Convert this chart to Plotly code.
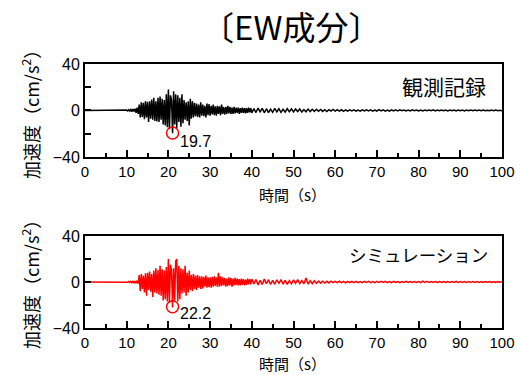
import numpy as np
import plotly.graph_objects as go

# ---------------- data ----------------
title_text = "〔EW成分〕"
panel_labels = ["観測記録", "シミュレーション"]
ytitle = "加速度（cm/s<sup>2</sup>）"
xtitle = "時間（s）"
x_tickvals = [0, 10, 20, 30, 40, 50, 60, 70, 80, 90, 100]
y_tickvals = [-40, 0, 40]
y_ticktext = ["−40", "0", "40"]

# time bases (s)
t_quiet = np.arange(0, 10, 1.0)
t_main = np.arange(10.0, 40.0, 0.25)
t_tail = np.arange(40.0, 100.01, 0.5)

# observed acceleration (cm/s^2)
obs_quiet = [0, 0, 0, 0, 0, 0, 0, 0, 0.1, -0.1]
obs_main = [
    0.3, -0.4, 0.6, -0.5, 0.8, -1.0, 1.2, -0.9,
    1.5, -2.0, 2.5, -3.0, 5.0, -6.0, 7.0, -5.5,
    6.5, -7.5, 8.0, -6.0, 7.5, -10.0, 8.0, -7.0,
    9.5, -8.0, 11.0, -9.0, 8.0, -9.5, 11.0, -10.0,
    12.0, -8.0, 10.0, -12.0, 9.0, -13.0, 14.0, -14.5,
    18.0, -16.0, 13.0, 9.0, -19.7, 16.5, -12.0, 14.0,
    -15.0, 13.0, -10.0, 11.0, -14.0, 14.0, -11.0, 9.0,
    -8.0, 7.0, -9.0, 8.0, -13.0, 10.0, -7.0, 8.0,
    -6.0, 6.5, -5.0, 6.0, -5.5, 5.0, -6.0, 7.0,
    -4.5, 5.0, -5.0, 4.0, -6.0, 6.0, -4.0, 5.5,
    -4.5, 4.0, -3.5, 5.0, -4.0, 3.5, -4.5, 4.0,
    -3.0, 3.5, -4.0, 5.0, -3.0, 3.0, -3.5, 3.0,
    -3.0, 4.0, -2.5, 3.0, -3.0, 2.5, -3.0, 3.0,
    -2.5, 2.5, -2.0, 2.5, -3.0, 2.0, -2.0, 2.5,
    -2.0, 2.0, -2.5, 2.0, -2.0, 2.5, -1.5, 2.0,
]
obs_tail = [
    -2.0, 1.6, -1.8, 2.0, -1.2, 1.8, -2.0, 1.5, -1.8, 1.2,
    -1.6, 1.8, -1.2, 1.5, -1.6, 1.0, -1.4, 1.6, -1.0, 1.4,
    -1.2, 1.3, -0.9, 1.2, -1.4, 0.8, -1.1, 1.2, -0.9, 1.0,
    -0.8, 1.0, -0.7, 0.9, -0.8, 0.6, -0.9, 0.7, -0.6, 0.8,
    -0.6, 0.7, -0.5, 0.6, -0.7, 0.5, -0.6, 0.5, -0.4, 0.6,
    -0.5, 0.4, -0.6, 0.5, -0.4, 0.6, -0.4, 0.5, -0.5, 0.4,
    -0.5, 0.7, -0.4, 0.5, -0.6, 0.4, -0.5, 0.6, -0.4, 0.5,
    -0.4, 0.5, -0.3, 0.4, -0.5, 0.3, -0.4, 0.5, -0.3, 0.4,
    -0.4, 0.3, -0.5, 0.4, -0.3, 0.4, -0.3, 0.5, -0.4, 0.3,
    -0.3, 0.4, -0.3, 0.3, -0.4, 0.3, -0.3, 0.4, -0.4, 0.3,
    -0.3, 0.3, -0.4, 0.4, -0.3, 0.3, -0.3, 0.4, -0.3, 0.3,
    -0.3, 0.3, -0.3, 0.2, -0.3, 0.3, -0.2, 0.3, -0.3, 0.2,
    -0.2,
]

# simulated acceleration (cm/s^2)
sim_quiet = [0, 0, 0, 0, 0, 0, 0, 0, 0.1, -0.1]
sim_main = [
    0.2, -0.3, 0.4, -0.4, 0.5, -0.6, 0.6, -0.7,
    0.8, -1.0, 1.2, -1.5, 6.0, -8.0, 7.0, -6.0,
    5.5, -9.0, 7.5, -12.0, 8.0, -7.0, 9.0, -8.5,
    7.0, -13.0, 10.0, -9.0, 12.0, -10.0, 10.5, -11.0,
    14.0, -12.0, 11.0, -16.0, 10.0, -15.0, 13.0, -17.0,
    20.0, -18.0, 15.0, 10.0, -22.2, 12.0, -16.0, 18.0,
    20.0, -17.0, 14.0, -15.0, 12.0, -10.0, 11.0, -9.0,
    14.0, -12.0, 8.0, -9.0, 10.0, -7.0, 6.0, -8.0,
    7.0, -6.0, 5.5, -7.0, 6.0, -5.0, 5.0, -6.0,
    5.0, -5.5, 4.5, -4.0, 5.5, -5.0, 4.0, -4.5,
    4.0, -5.0, 4.5, -4.0, 5.0, -3.5, 4.0, -4.0,
    8.0, -4.0, 5.0, -3.5, 4.0, -3.0, 3.5, -4.0,
    3.0, -3.5, 4.0, -3.0, 3.5, -4.0, 3.0, -3.0,
    3.5, -2.5, 3.0, -3.0, 2.5, -3.0, 3.0, -2.5,
    2.5, -3.0, 2.0, -2.5, 3.0, -2.0, 2.5, -2.0,
]
sim_tail = [
    2.5, -1.6, 2.2, -2.5, 1.4, -2.2, 2.5, -1.5, 2.0, -2.2,
    1.4, -2.0, 1.8, -1.2, 2.0, -1.8, 1.5, -2.0, 1.2, -1.6,
    1.8, -1.2, 2.0, -1.4, 1.2, -1.5, 3.5, -1.8, 1.2, -1.5,
    1.0, -1.2, 0.8, -1.0, 0.7, -0.9, 0.6, -0.8, 0.7, -0.6,
    0.6, -0.5, 0.7, -0.6, 0.5, -0.7, 0.5, -0.6, 0.6, -0.5,
    0.5, -0.6, 0.4, -0.5, 0.6, -0.4, 0.5, -0.5, 0.4, -0.5,
    0.5, -0.4, 0.6, -0.4, 0.5, -0.5, 0.4, -0.5, 0.5, -0.4,
    0.4, -0.5, 0.4, -0.3, 0.5, -0.4, 0.3, -0.4, 0.4, -0.4,
    0.4, -0.5, 0.7, -0.4, 0.5, -0.3, 0.4, -0.3, 0.4, -0.4,
    0.3, -0.4, 0.3, -0.4, 0.3, -0.3, 0.4, -0.3, 0.5, -0.3,
    0.3, -0.3, 0.4, -0.3, 0.3, -0.3, 0.3, -0.3, 0.4, -0.3,
    0.3, -0.3, 0.3, -0.2, 0.3, -0.3, 0.2, -0.3, 0.3, -0.2,
    0.2,
]

# peak markers
peak_time = [21.0, 21.0]
peak_val = [-19.4, -21.5]
peak_label = ["19.7", "22.2"]

# ---------------- figure ----------------
t_all = np.concatenate([t_quiet, t_main, t_tail])
obs_all = obs_quiet + obs_main + obs_tail
sim_all = sim_quiet + sim_main + sim_tail

NUM_FONT = "Liberation Sans, Arial, sans-serif"
JP_FONT = "Noto Sans CJK JP, sans-serif"

fig = go.Figure()
fig.add_trace(go.Scatter(x=t_all, y=obs_all, mode="lines",
                         line=dict(color="black", width=1.5),
                         xaxis="x", yaxis="y", showlegend=False))
fig.add_trace(go.Scatter(x=t_all, y=sim_all, mode="lines",
                         line=dict(color="#ff0000", width=1.5),
                         xaxis="x2", yaxis="y2", showlegend=False))
fig.add_trace(go.Scatter(x=[peak_time[0]], y=[peak_val[0]], mode="markers",
                         marker=dict(symbol="circle-open", size=12, color="#ff0000",
                                     line=dict(width=1.5, color="#ff0000")),
                         xaxis="x", yaxis="y", showlegend=False))
fig.add_trace(go.Scatter(x=[peak_time[1]], y=[peak_val[1]], mode="markers",
                         marker=dict(symbol="circle-open", size=12, color="#ff0000",
                                     line=dict(width=1.5, color="#ff0000")),
                         xaxis="x2", yaxis="y2", showlegend=False))

xax = dict(range=[0, 100], tickvals=x_tickvals, ticks="inside", ticklen=7,
           tickwidth=1.5, tickcolor="black",
           minor=dict(ticks="inside", ticklen=4, dtick=5, tickwidth=1.5, tickcolor="black"),
           showline=True, linewidth=2, linecolor="black", mirror=True,
           showgrid=False, zeroline=False, automargin=False,
           tickfont=dict(family=NUM_FONT, size=15, color="black"))
yax = dict(range=[-40, 40], tickvals=y_tickvals, ticktext=y_ticktext,
           ticks="inside", ticklen=6, tickwidth=1.5, tickcolor="black",
           minor=dict(ticks="inside", ticklen=6, dtick=20, tickwidth=1.5, tickcolor="black"),
           showline=True, linewidth=2, linecolor="black", mirror=True,
           showgrid=False, zeroline=False, automargin=False,
           tickfont=dict(family=NUM_FONT, size=16, color="black"))

fig.update_layout(
    width=520, height=375,
    margin=dict(l=85, r=18, t=64, b=47),
    paper_bgcolor="white", plot_bgcolor="white",
    xaxis=dict(xax, anchor="y", domain=[0, 1]),
    yaxis=dict(yax, anchor="x", domain=[0.648, 1.0]),
    xaxis2=dict(xax, anchor="y2", domain=[0, 1]),
    yaxis2=dict(yax, anchor="x2", domain=[0, 0.3485]),
)

ann = []
# main title
ann.append(dict(text=title_text, x=(291 - 85) / 417, y=(328 - 26) / 264,
                xref="paper", yref="paper", showarrow=False,
                font=dict(family=JP_FONT, size=33, color="black"),
                xanchor="center", yanchor="middle"))
# panel labels
ann.append(dict(text=panel_labels[0], x=(488 - 85) / 417, y=(328 - 86) / 264,
                xref="paper", yref="paper", showarrow=False,
                font=dict(family=JP_FONT, size=21, color="black"),
                xanchor="right", yanchor="middle"))
ann.append(dict(text=panel_labels[1], x=(490 - 85) / 417, y=(328 - 254) / 264,
                xref="paper", yref="paper", showarrow=False,
                font=dict(family=JP_FONT, size=17.5, color="black"),
                xanchor="right", yanchor="middle"))
# y titles
for yc in [110, 280]:
    ann.append(dict(text=ytitle, x=(30 - 85) / 417, y=(328 - yc) / 264,
                    xref="paper", yref="paper", showarrow=False, textangle=-90,
                    font=dict(family=JP_FONT, size=18, color="black"),
                    xanchor="center", yanchor="middle"))
# x titles
for yc in [194, 363]:
    ann.append(dict(text=xtitle, x=(292 - 85) / 417, y=(328 - yc) / 264,
                    xref="paper", yref="paper", showarrow=False,
                    font=dict(family=JP_FONT, size=15, color="black"),
                    xanchor="center", yanchor="middle"))
# peak labels
ann.append(dict(text=peak_label[0], x=peak_time[0] + 1.2, y=peak_val[0] - 7.5,
                xref="x", yref="y", showarrow=False, xanchor="left", yanchor="middle",
                font=dict(family=NUM_FONT, size=16, color="black")))
ann.append(dict(text=peak_label[1], x=peak_time[1] + 1.2, y=peak_val[1] - 5.5,
                xref="x2", yref="y2", showarrow=False, xanchor="left", yanchor="middle",
                font=dict(family=NUM_FONT, size=16, color="black")))
fig.update_layout(annotations=ann)

fig.write_html("out.html", config={"displayModeBar": False},
               post_script="document.body.style.margin='0';document.body.style.padding='0';")
